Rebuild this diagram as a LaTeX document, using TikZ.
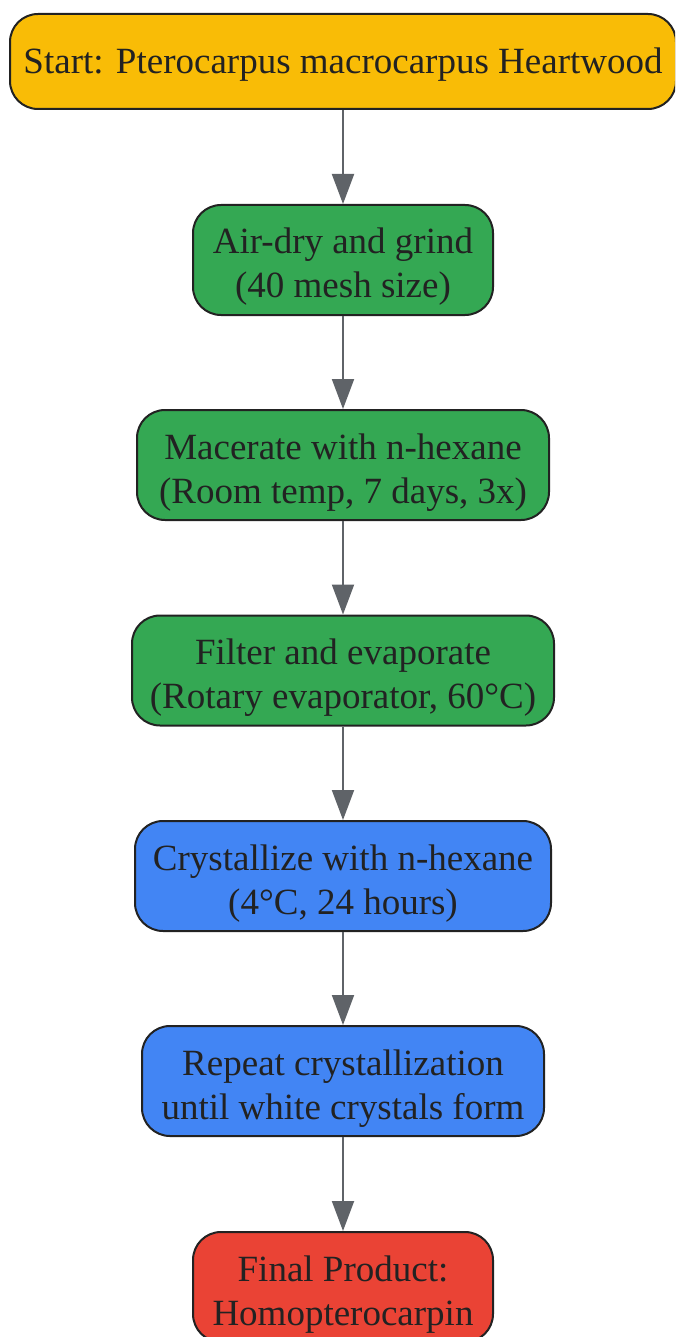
\documentclass[tikz,border=0pt]{standalone}
\usepackage{fontspec}
\setmainfont{Liberation Serif}
\usetikzlibrary{arrows.meta}

\definecolor{startyellow}{RGB}{249,188,6}
\definecolor{stepgreen}{RGB}{52,168,83}
\definecolor{stepblue}{RGB}{66,133,244}
\definecolor{endred}{RGB}{234,67,53}
\definecolor{inkdark}{RGB}{34,34,34}
\definecolor{linkgray}{RGB}{95,99,104}

\tikzset{every picture/.style={line width=0.75pt}}
\tikzset{
  flowbox/.style={draw=inkdark, line width=2pt, rounded corners=28pt, align=center,
    text=inkdark, font=\fontsize{37}{44}\selectfont, inner sep=0pt, minimum height=110pt,
    text height=86pt, text depth=10pt},
  flowlink/.style={draw=linkgray, line width=2pt, -{Triangle[length=30pt,width=22pt]}}
}

\begin{document}
\begin{tikzpicture}[x=1pt,y=1pt,yscale=-1,xscale=1]
\useasboundingbox (0,0) rectangle (675,1337);
\clip (0,0) rectangle (675,1337);

%Shape: Rounded Rect [id:start]
\node [flowbox, fill=startyellow, minimum width=666pt, minimum height=95pt, text height=35pt] (start) at (343,61.5) {Start: Pterocarpus macrocarpus Heartwood};
%Shape: Rounded Rect [id:grind]
\node [flowbox, fill=stepgreen, minimum width=300pt] (grind) at (343,260) {Air-dry and grind\\(40 mesh size)};
%Shape: Rounded Rect [id:macerate]
\node [flowbox, fill=stepgreen, minimum width=412pt] (macerate) at (343,465) {Macerate with n-hexane\\(Room temp, 7 days, 3x)};
%Shape: Rounded Rect [id:filter]
\node [flowbox, fill=stepgreen, minimum width=422pt] (filter) at (343,670.5) {Filter and evaporate\\(Rotary evaporator, 60°C)};
%Shape: Rounded Rect [id:crystal]
\node [flowbox, fill=stepblue, minimum width=416pt] (crystal) at (343,876) {Crystallize with n-hexane\\(4°C, 24 hours)};
%Shape: Rounded Rect [id:repeat]
\node [flowbox, fill=stepblue, minimum width=402pt] (repeat) at (343,1081) {Repeat crystallization\\until white crystals form};
%Shape: Rounded Rect [id:product]
\node [flowbox, fill=endred, minimum width=300pt] (product) at (343,1287) {Final Product:\\Homopterocarpin};

%Straight Lines
\draw [flowlink] (start) -- (grind);
\draw [flowlink] (grind) -- (macerate);
\draw [flowlink] (macerate) -- (filter);
\draw [flowlink] (filter) -- (crystal);
\draw [flowlink] (crystal) -- (repeat);
\draw [flowlink] (repeat) -- (product);

\end{tikzpicture}
\end{document}
